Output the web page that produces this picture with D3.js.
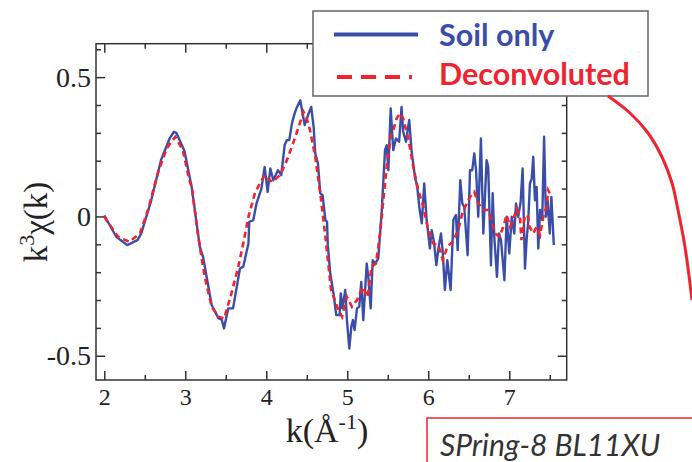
<!DOCTYPE html>
<html>
<head>
<meta charset="utf-8">
<script src="https://cdn.jsdelivr.net/npm/d3@7"></script>
<style>
  html, body { margin: 0; padding: 0; background: #fff; }
  svg { display: block; }
</style>
</head>
<body>
<svg id="chart" width="692" height="462"></svg>
<script>
// Soil only (measured, noisy)
const soilK = [2.0, 2.148, 2.284, 2.41, 2.457, 2.58, 2.70, 2.807, 2.86, 2.89, 2.99, 3.079, 3.18, 3.22, 3.326, 3.41, 3.45, 3.478, 3.53, 3.59,
  3.675, 3.716, 3.78, 3.79, 3.84, 3.88, 3.94, 3.98, 4.017, 4.05, 4.087, 4.144, 4.185, 4.227, 4.255, 4.284, 4.317, 4.35, 4.38, 4.42,
  4.474, 4.515, 4.555, 4.585, 4.605, 4.638, 4.667, 4.696, 4.73, 4.75, 4.76, 4.79, 4.83, 4.864, 4.905, 4.92, 4.94, 4.975, 4.996, 5.025,
  5.05, 5.07, 5.09, 5.12, 5.148, 5.173, 5.198, 5.24, 5.26, 5.289, 5.314, 5.343, 5.383, 5.425, 5.466, 5.487, 5.507, 5.536, 5.568, 5.60,
  5.64, 5.67, 5.69, 5.725, 5.765, 5.795, 5.836, 5.864, 5.889, 5.92, 5.95, 5.98, 6.02, 6.042, 6.07, 6.10, 6.125, 6.157, 6.18, 6.205,
  6.235, 6.276, 6.31, 6.342, 6.363, 6.395, 6.42, 6.444, 6.486, 6.515, 6.543, 6.568, 6.59, 6.617, 6.65, 6.68, 6.72, 6.74, 6.774, 6.795,
  6.815, 6.848, 6.873, 6.898, 6.94, 6.968, 7.0, 7.03, 7.062, 7.083, 7.11, 7.14, 7.165, 7.194, 7.214, 7.234, 7.255, 7.277, 7.296, 7.317,
  7.338, 7.358, 7.38, 7.407, 7.43, 7.452, 7.474, 7.5, 7.52, 7.55]
const soilChi = [0.004, -0.073, -0.103, -0.085, -0.061, 0.058, 0.202, 0.28, 0.304, 0.30, 0.235, 0.106, -0.109, -0.145, -0.318, -0.366, -0.37, -0.402, -0.33, -0.33,
  -0.187, -0.18, -0.097, -0.019, -0.013, 0.047, 0.10, 0.178, 0.088, 0.172, 0.13, 0.166, 0.148, 0.256, 0.274, 0.274, 0.334, 0.37, 0.393, 0.417,
  0.328, 0.363, 0.393, 0.321, 0.226, 0.19, 0.083, 0.076, -0.013, -0.019, -0.103, -0.205, -0.276, -0.354, -0.354, -0.276, -0.33, -0.264, -0.372, -0.474,
  -0.396, -0.372, -0.408, -0.33, -0.324, -0.235, -0.372, -0.169, -0.217, -0.33, -0.157, -0.169, -0.151, 0.017, 0.238, 0.256, 0.166, 0.388, 0.238, 0.28,
  0.268, 0.393, 0.304, 0.268, 0.346, 0.232, 0.142, 0.106, 0.034, -0.025, 0.118, -0.013, -0.115, -0.049, -0.091, -0.175, -0.115, -0.061, -0.133, -0.264,
  -0.157, -0.264, -0.013, 0.005, -0.121, 0.13, 0.047, 0.034, -0.139, 0.166, 0.166, 0.226, 0.166, -0.001, 0.28, -0.061, 0.202, 0.178, -0.175, 0.083,
  -0.073, -0.217, -0.061, -0.085, -0.229, -0.001, -0.133, -0.001, -0.061, 0.047, -0.001, 0.052, 0.172, -0.187, -0.085, -0.019, 0.118, 0.136, 0.214, 0.058,
  0.106, -0.115, 0.023, -0.013, 0.286, -0.001, 0.058, -0.061, 0.07, -0.103]

// Deconvoluted
const deconK = [2.0, 2.17, 2.31, 2.44, 2.54, 2.66, 2.77, 2.877, 2.97, 3.05, 3.08, 3.16, 3.24, 3.326, 3.41, 3.48, 3.57, 3.655, 3.716, 3.78,
  3.86, 3.92, 3.98, 4.07, 4.17, 4.255, 4.36, 4.46, 4.50, 4.54, 4.605, 4.667, 4.73, 4.80, 4.876, 4.935, 4.996, 5.058, 5.12, 5.19,
  5.25, 5.30, 5.354, 5.40, 5.445, 5.487, 5.536, 5.568, 5.61, 5.65, 5.69, 5.753, 5.815, 5.877, 5.94, 6.0, 6.06, 6.125, 6.18, 6.235,
  6.30, 6.37, 6.42, 6.475, 6.515, 6.568, 6.617, 6.68, 6.74, 6.78, 6.826, 6.88, 6.926, 6.968, 7.01, 7.05, 7.09, 7.13, 7.15, 7.19,
  7.225, 7.25, 7.296, 7.338, 7.38, 7.42, 7.46, 7.48, 7.50]
const deconChi = [-0.001, -0.073, -0.091, -0.061, 0.023, 0.154, 0.244, 0.286, 0.238, 0.13, 0.106, -0.073, -0.217, -0.324, -0.36, -0.366, -0.276, -0.18, -0.097, -0.001,
  0.083, 0.118, 0.148, 0.124, 0.148, 0.202, 0.286, 0.375, 0.352, 0.31, 0.214, 0.083, -0.073, -0.264, -0.324, -0.36, -0.289, -0.324, -0.30, -0.253,
  -0.289, -0.18, -0.169, -0.073, 0.058, 0.178, 0.286, 0.31, 0.352, 0.37, 0.352, 0.28, 0.178, 0.094, 0.034, -0.049, -0.097, -0.103, -0.157, -0.109,
  -0.091, -0.049, 0.011, 0.047, 0.07, 0.088, 0.047, 0.023, 0.023, -0.013, -0.061, -0.073, -0.037, 0.005, -0.037, -0.013, 0.029, 0.005, -0.085, -0.001,
  0.005, -0.037, -0.061, -0.037, -0.067, -0.001, 0.034, 0.094, 0.083]

const xMajor = [2, 3, 4, 5, 6, 7]
const xMinor = [2.5, 3.5, 4.5, 5.5, 6.5, 7.5]
const yMajor = [-0.5, 0, 0.5]
const yMinor = [-0.4, -0.3, -0.2, -0.1, 0.1, 0.2, 0.3, 0.4, 0.6]
const seriesNames = ['Soil only', 'Deconvoluted']
const stationLabel = 'SPring-8 BL11XU'

const blue = '#3a4ea8'
const red = '#ee2430'
const axisColor = '#333'
const serif = '"Liberation Serif", "Times New Roman", serif'
const sans = 'Lato, "Open Sans", sans-serif'

const svg = d3.select('#chart')
const plot = {left: 96, top: 43.7, right: 566.7, bottom: 380}

const x = d3.scaleLinear().domain([1.898, 7.709]).range([plot.left, plot.right])
const y = d3.scaleLinear().domain([-0.587, 0.62]).range([plot.bottom, plot.top])

// axes with inward ticks on all four sides
function styleAxis(g) {
  g.select('.domain').remove()
  g.selectAll('.tick line').attr('stroke', axisColor).attr('stroke-width', 1.5)
  g.selectAll('.tick text').attr('fill', '#222').attr('font-family', serif)
}

svg.append('g')
  .attr('transform', `translate(0,${plot.bottom})`)
  .call(d3.axisBottom(x).tickValues(xMajor).tickSizeInner(-9).tickSizeOuter(0).tickPadding(8).tickFormat(d => String(d)))
  .call(styleAxis)
  .call(g => g.selectAll('.tick text').attr('font-size', 24))
svg.append('g')
  .attr('transform', `translate(0,${plot.bottom})`)
  .call(d3.axisBottom(x).tickValues(xMinor).tickSizeInner(-5).tickSizeOuter(0).tickFormat(''))
  .call(styleAxis)
svg.append('g')
  .attr('transform', `translate(0,${plot.top})`)
  .call(d3.axisTop(x).tickValues(xMajor).tickSizeInner(-9).tickSizeOuter(0).tickFormat(''))
  .call(styleAxis)
svg.append('g')
  .attr('transform', `translate(0,${plot.top})`)
  .call(d3.axisTop(x).tickValues(xMinor).tickSizeInner(-5).tickSizeOuter(0).tickFormat(''))
  .call(styleAxis)

svg.append('g')
  .attr('transform', `translate(${plot.left},0)`)
  .call(d3.axisLeft(y).tickValues(yMajor).tickSizeInner(-9).tickSizeOuter(0).tickPadding(5).tickFormat(d => d === 0 ? '0' : d.toFixed(1)))
  .call(styleAxis)
  .call(g => g.selectAll('.tick text').attr('font-size', 28))
svg.append('g')
  .attr('transform', `translate(${plot.left},0)`)
  .call(d3.axisLeft(y).tickValues(yMinor).tickSizeInner(-5).tickSizeOuter(0).tickFormat(''))
  .call(styleAxis)
svg.append('g')
  .attr('transform', `translate(${plot.right},0)`)
  .call(d3.axisRight(y).tickValues(yMajor).tickSizeInner(-9).tickSizeOuter(0).tickFormat(''))
  .call(styleAxis)
svg.append('g')
  .attr('transform', `translate(${plot.right},0)`)
  .call(d3.axisRight(y).tickValues(yMinor).tickSizeInner(-5).tickSizeOuter(0).tickFormat(''))
  .call(styleAxis)

svg.append('rect')
  .attr('x', plot.left).attr('y', plot.top)
  .attr('width', plot.right - plot.left).attr('height', plot.bottom - plot.top)
  .attr('fill', 'none').attr('stroke', axisColor).attr('stroke-width', 1.5)

// curves
const line = d3.line().x(d => x(d[0])).y(d => y(d[1]))
svg.append('path')
  .datum(d3.zip(soilK, soilChi))
  .attr('fill', 'none').attr('stroke', blue).attr('stroke-width', 2.4)
  .attr('stroke-linejoin', 'round')
  .attr('d', line)
svg.append('path')
  .datum(d3.zip(deconK, deconChi))
  .attr('fill', 'none').attr('stroke', red).attr('stroke-width', 2.6)
  .attr('stroke-dasharray', '6,4')
  .attr('d', line)

// axis titles
const yTitle = svg.append('text')
  .attr('transform', 'translate(47,222) rotate(-90)')
  .attr('text-anchor', 'middle')
  .attr('font-family', serif).attr('font-size', 33).attr('fill', '#222')
yTitle.append('tspan').text('k')
yTitle.append('tspan').attr('dy', -13).attr('font-size', 22).text('3')
yTitle.append('tspan').attr('dy', 13).text('χ(k)')

const xTitle = svg.append('text')
  .attr('x', 327).attr('y', 442)
  .attr('text-anchor', 'middle')
  .attr('font-family', serif).attr('font-size', 34).attr('fill', '#222')
xTitle.append('tspan').text('k(Å')
xTitle.append('tspan').attr('dy', -13).attr('font-size', 22).text('-1')
xTitle.append('tspan').attr('dy', 13).text(')')

// legend
const legend = svg.append('g')
legend.append('rect')
  .attr('x', 313).attr('y', 11).attr('width', 335).attr('height', 85)
  .attr('fill', '#fff').attr('stroke', '#666').attr('stroke-width', 1.5)
legend.append('line')
  .attr('x1', 334).attr('x2', 418).attr('y1', 34.5).attr('y2', 34.5)
  .attr('stroke', blue).attr('stroke-width', 4)
legend.append('line')
  .attr('x1', 337).attr('x2', 412).attr('y1', 77).attr('y2', 77)
  .attr('stroke', red).attr('stroke-width', 4).attr('stroke-dasharray', '15,9')
legend.selectAll('text.lg')
  .data(seriesNames)
  .join('text')
  .attr('class', 'lg')
  .attr('x', 439).attr('y', (d, i) => i === 0 ? 45.5 : 85)
  .attr('font-family', sans).attr('font-weight', 'bold').attr('font-size', 30.5)
  .attr('fill', (d, i) => i === 0 ? blue : red)
  .text(d => d)

// connector curve and station box (part of the surrounding figure)
const connector = [[608, 96], [630, 113], [648, 133], [662, 157], [672, 183], [678, 210], [685, 247], [692, 300]]
svg.append('path')
  .datum(connector)
  .attr('fill', 'none').attr('stroke', red).attr('stroke-width', 3)
  .attr('d', d3.line().curve(d3.curveCatmullRom))

svg.append('rect')
  .attr('x', 427).attr('y', 418).attr('width', 280).attr('height', 60)
  .attr('fill', '#fff').attr('stroke', red).attr('stroke-width', 1.5)
svg.append('text')
  .attr('x', 440).attr('y', 456)
  .attr('font-family', sans).attr('font-style', 'italic').attr('font-size', 30)
  .attr('fill', '#333')
  .text(stationLabel)
</script>
</body>
</html>
